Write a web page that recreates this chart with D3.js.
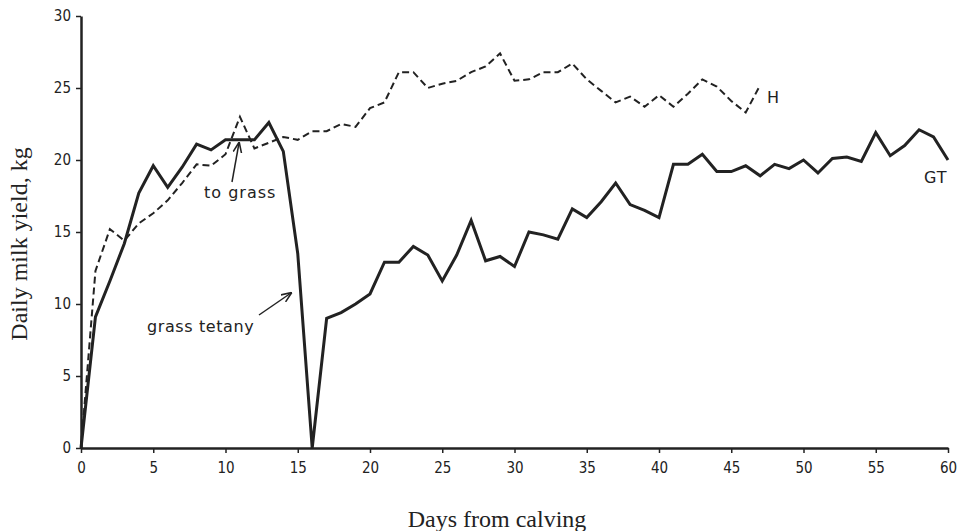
<!DOCTYPE html>
<meta charset="UTF-8">
<html>
<head>
<script src="https://d3js.org/d3.v7.min.js"></script>
<style>
  body { margin: 0; background: #fff; }
  .tick text { font-family: "DejaVu Sans Condensed", "DejaVu Sans", sans-serif; font-stretch: condensed; font-size: 15px; fill: #222; }
  .lbl { font-family: "DejaVu Sans", sans-serif; font-size: 16px; letter-spacing: 1px; fill: #222; }
  .title { font-family: "Liberation Serif", "DejaVu Serif", serif; fill: #222; }
</style>
</head>
<body>
<svg id="chart" width="964" height="531"></svg>
<script>
// days from calving
var daysGT = d3.range(0, 61);
var daysH = d3.range(0, 48);

// GT = grass tetany cow, H = healthy cow (kg/day)
var yieldGT = [0, 9.1, 11.6, 14.2, 17.7, 19.6, 18.1, 19.5, 21.1, 20.7,
  21.4, 21.4, 21.4, 22.6, 20.6, 13.5, 0, 9.0, 9.4, 10.0,
  10.7, 12.9, 12.9, 14.0, 13.4, 11.6, 13.4, 15.8, 13.0, 13.3,
  12.6, 15.0, 14.8, 14.5, 16.6, 16.0, 17.1, 18.4, 16.9, 16.5,
  16.0, 19.7, 19.7, 20.4, 19.2, 19.2, 19.6, 18.9, 19.7, 19.4,
  20.0, 19.1, 20.1, 20.2, 19.9, 21.9, 20.3, 21.0, 22.1, 21.6, 20.0];

var yieldH = [0, 12.3, 15.2, 14.4, 15.6, 16.3, 17.2, 18.4, 19.7, 19.6,
  20.4, 23.0, 20.8, 21.2, 21.6, 21.4, 22.0, 22.0, 22.5, 22.3,
  23.6, 24.0, 26.1, 26.1, 25.0, 25.3, 25.5, 26.1, 26.5, 27.4,
  25.5, 25.6, 26.1, 26.1, 26.7, 25.6, 24.8, 24.0, 24.4, 23.7,
  24.5, 23.7, 24.6, 25.6, 25.1, 24.1, 23.3, 25.2];

var xTicks = d3.range(0, 61, 5);
var yTicks = d3.range(0, 31, 5);

var svg = d3.select('#chart');
var x = d3.scaleLinear().domain([0, 60]).range([81, 948]);
var y = d3.scaleLinear().domain([0, 30]).range([448, 16]);

var line = d3.line()
  .x(function (d) { return x(d[0]); })
  .y(function (d) { return y(d[1]); });

// axes
var xAxis = svg.append('g')
  .attr('transform', 'translate(0,' + y(0) + ')')
  .call(d3.axisBottom(x).tickValues(xTicks).tickSize(5).tickSizeOuter(0).tickFormat(d3.format('d')));
var yAxis = svg.append('g')
  .attr('transform', 'translate(' + x(0) + ',0)')
  .call(d3.axisLeft(y).tickValues(yTicks).tickSize(5).tickSizeOuter(0).tickFormat(d3.format('d')));

xAxis.select('.domain').attr('stroke', '#222').attr('stroke-width', 2.5);
yAxis.select('.domain').attr('stroke', '#222').attr('stroke-width', 2.5);
svg.selectAll('.tick line').attr('stroke', '#222').attr('stroke-width', 1.5);
xAxis.selectAll('.tick text').attr('y', 14);
yAxis.selectAll('.tick text').attr('x', -10);

// series
svg.append('path')
  .datum(daysH.map(function (d, i) { return [d, yieldH[i]]; }))
  .attr('d', line)
  .attr('fill', 'none')
  .attr('stroke', '#222')
  .attr('stroke-width', 2)
  .attr('stroke-dasharray', '7,4');

svg.append('path')
  .datum(daysGT.map(function (d, i) { return [d, yieldGT[i]]; }))
  .attr('d', line)
  .attr('fill', 'none')
  .attr('stroke', '#222')
  .attr('stroke-width', 3)
  .attr('stroke-linejoin', 'miter');

// annotations
svg.append('defs').append('marker')
  .attr('id', 'arr').attr('viewBox', '0 0 10 10')
  .attr('refX', 9).attr('refY', 5)
  .attr('markerWidth', 7).attr('markerHeight', 7)
  .attr('orient', 'auto')
  .append('path').attr('d', 'M0,1 L10,5 L0,9').attr('fill', 'none').attr('stroke', '#222').attr('stroke-width', 1.5);

svg.append('line').attr('x1', 232).attr('y1', 182).attr('x2', 239).attr('y2', 143)
  .attr('stroke', '#222').attr('stroke-width', 1.5).attr('marker-end', 'url(#arr)');
svg.append('text').attr('class', 'lbl').attr('x', 204).attr('y', 198).text('to grass');

svg.append('line').attr('x1', 259).attr('y1', 315).attr('x2', 291).attr('y2', 293)
  .attr('stroke', '#222').attr('stroke-width', 1.5).attr('marker-end', 'url(#arr)');
svg.append('text').attr('class', 'lbl').attr('x', 147).attr('y', 332)
  .style('letter-spacing', '0.6px').text('grass  tetany');

svg.append('text').attr('class', 'lbl').attr('x', 767).attr('y', 103).text('H');
svg.append('text').attr('class', 'lbl').attr('x', 924).attr('y', 183).text('GT');

// titles
svg.append('text').attr('class', 'title')
  .attr('x', 497).attr('y', 527).attr('text-anchor', 'middle')
  .style('font-size', '24px')
  .text('Days from calving');
svg.append('text').attr('class', 'title')
  .attr('transform', 'translate(27,244) rotate(-90)')
  .attr('text-anchor', 'middle')
  .style('font-size', '24px')
  .text('Daily milk yield, kg');
</script>
</body>
</html>
